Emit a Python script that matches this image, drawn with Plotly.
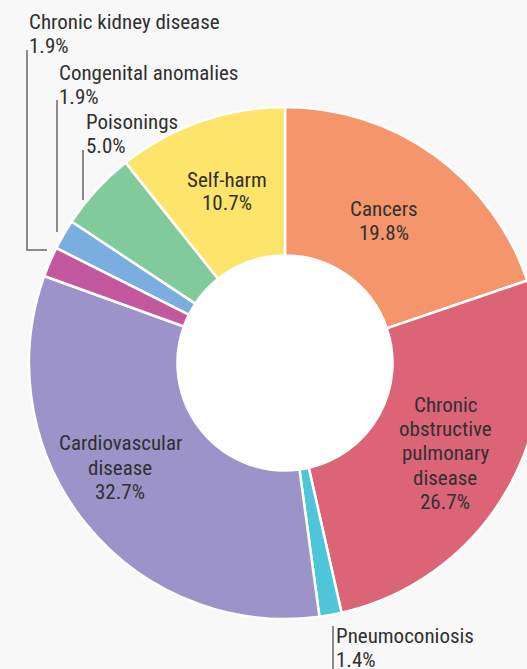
import plotly.graph_objects as go

# ---- data ----
categories = ["Cancers", "Chronic obstructive pulmonary disease", "Pneumoconiosis",
              "Cardiovascular disease", "Chronic kidney disease", "Congenital anomalies",
              "Poisonings", "Self-harm"]
label_lines = [["Cancers"], ["Chronic", "obstructive", "pulmonary", "disease"], ["Pneumoconiosis"],
               ["Cardiovascular", "disease"], ["Chronic kidney disease"], ["Congenital anomalies"],
               ["Poisonings"], ["Self-harm"]]
shares = [19.8, 26.7, 1.4, 32.7, 1.9, 1.9, 5.0, 10.7]
colors = ["#F5956B", "#DC6477", "#4CC6D8", "#9C94C8", "#C4589F", "#79AEDF", "#80CA9B", "#FDE46B"]

# ---- layout geometry (pixels) ----
W, H = 570, 669
ML, MR, MT, MB = 0, 0, 107, 50
PW, PH = W - ML - MR, H - MT - MB
HOLE = 0.42
FONT = "Roboto Condensed, Liberation Sans Narrow, DejaVu Sans Condensed, Roboto, sans-serif"
FS = 21
TXT = "#303030"
LINE = "#666666"

def px(x):
    return (x - ML) / PW

def py(y):
    return (H - MB - y) / PH

fig = go.Figure(go.Pie(
    labels=categories, values=shares, sort=False, direction="clockwise", rotation=0,
    hole=HOLE, textinfo="none", hoverinfo="label+percent",
    marker=dict(colors=colors, line=dict(color="white", width=2.5)),
    domain=dict(x=[0, 1], y=[0, 1]), showlegend=False,
))

# label placements: (x_px, first line centre y_px, line step, xanchor)
placement = {
    "Cancers": (384, 209, 23.5, "center"),
    "Chronic obstructive pulmonary disease": (445, 405, 24.2, "center"),
    "Pneumoconiosis": (334, 636, 24, "left"),
    "Cardiovascular disease": (120, 443, 24.5, "center"),
    "Chronic kidney disease": (27, 22, 24, "left"),
    "Congenital anomalies": (57, 73, 24, "left"),
    "Poisonings": (84, 122, 23.5, "left"),
    "Self-harm": (227, 180, 22.5, "center"),
}
annotations = []
for cat, lines, v in zip(categories, label_lines, shares):
    x, y0, step, xa = placement[cat]
    for i, t in enumerate(lines + [f"{v:.1f}%"]):
        annotations.append(dict(
            x=px(x), y=py(y0 + i * step), xref="paper", yref="paper", showarrow=False,
            text=t, xanchor=xa, yanchor="middle",
            font=dict(family=FONT, size=FS, color=TXT),
        ))

# leader lines (pixels)
leaders = [
    [(27, 50), (27, 250), (47, 250)],
    [(57, 100), (57, 232)],
    [(83, 150), (83, 200)],
    [(333, 626), (333, 669)],
]
shapes = []
for pts in leaders:
    path = "M " + " L ".join(f"{px(a):.5f},{py(b):.5f}" for a, b in pts)
    shapes.append(dict(type="path", path=path, xref="paper", yref="paper",
                       line=dict(color=LINE, width=1.5)))

# white disc filling the hole
cx, cy = 0.5, 0.5
r_px = min(PW, PH) / 2 * HOLE
shapes.append(dict(type="circle", xref="paper", yref="paper", layer="below",
                   x0=cx - r_px / PW, x1=cx + r_px / PW, y0=cy - r_px / PH, y1=cy + r_px / PH,
                   fillcolor="white", line=dict(width=0)))

fig.update_layout(
    width=W, height=H, autosize=False,
    margin=dict(l=ML, r=MR, t=MT, b=MB),
    paper_bgcolor="#F8F8F8", plot_bgcolor="#F8F8F8",
    annotations=annotations, shapes=shapes,
    font=dict(family=FONT, color=TXT),
)

fig.write_html(
    "out.html",
    config={"displayModeBar": False},
    post_script=("document.body.style.margin='0';"
                 "document.body.style.overflow='hidden';"
                 "document.documentElement.style.overflow='hidden';"),
)
